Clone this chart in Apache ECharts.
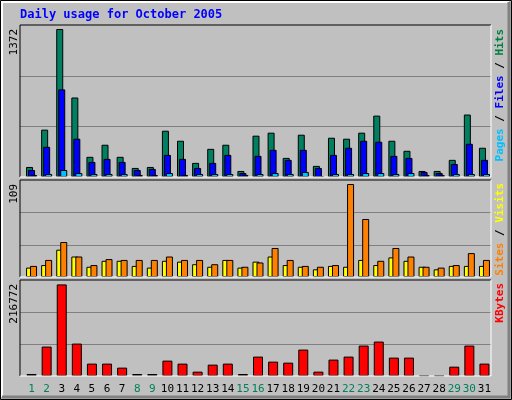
<!DOCTYPE html>
<html><head><meta charset="utf-8">
<script src="https://cdn.jsdelivr.net/npm/echarts@6/dist/echarts.min.js"></script>
<style>html,body{margin:0;padding:0;background:#fff}#c{width:512px;height:400px}</style>
</head><body><div id="c"></div>
<script>
const days = ['1','2','3','4','5','6','7','8','9','10','11','12','13','14','15','16','17','18','19','20','21','22','23','24','25','26','27','28','29','30','31'];
const weekend = ['1','2','8','9','15','16','22','23','29','30'];
const hits = [93,439,1372,737,187,299,187,84,93,429,336,131,261,299,56,383,411,177,392,103,364,355,411,569,336,243,56,56,159,579,271];
const files = [65,280,812,355,140,168,140,65,75,205,168,84,131,205,37,196,252,159,252,84,205,271,336,327,196,177,47,37,121,308,159];
const pages = [19,28,65,37,28,28,28,19,19,37,19,28,28,28,19,28,37,28,47,9,28,28,37,37,28,37,19,19,28,28,28];
const sites = [11,14,32,24,12,19,19,13,11,19,18,15,12,20,11,18,24,14,12,9,13,12,20,14,23,19,12,9,13,13,13];
const visits = [13,20,41,24,14,21,20,20,20,24,20,20,15,20,12,17,34,20,13,12,14,109,68,19,34,24,12,11,14,28,20];
const kbytes = [4746,69600,216772,76700,29300,29300,19800,4700,4700,36400,29300,10300,26900,29300,4700,45900,34000,31600,62500,10300,38800,45900,72000,81500,43500,43500,1500,1500,22100,72000,29300];
const maxLabels = ['1372','109','216772'];

const mono = '"DejaVu Sans Mono", "Liberation Mono", monospace';
const chart = echarts.init(document.getElementById('c'));
const FL = 20, FR = 491;
const GL = 24, GR = 20;
const panels = [{top:25,h:152,max:1409},{top:180,h:97,max:113.7},{top:280,h:96,max:227200}];
const bs = {borderColor:'#000',borderWidth:1};
const xAxes = panels.map((p,i)=>({type:'category',gridIndex:i,data:days.map(d=>({value:d,textStyle:{color:weekend.includes(d)?'#00805c':'#000'}})),
  axisLine:{show:false},axisTick:{show:false},axisLabel:{show:i===2,fontFamily:mono,fontSize:11,margin:8,interval:0}}));
const yAxes = panels.map((p,i)=>({type:'value',gridIndex:i,min:0,max:p.max,interval:p.max/3,axisLine:{show:false},axisTick:{show:false},axisLabel:{show:false},
  splitLine:{show:false}}));
const frame = [];
panels.forEach(p=>{
  [1,2].forEach(k=>{
    const y = Math.round(p.top + p.h - p.h*k/3) + 0.5;
    frame.push({type:'line',shape:{x1:FL,y1:y,x2:FR,y2:y},style:{stroke:'#808080',lineWidth:1},z:1});
  });
  frame.push({type:'polyline',shape:{points:[[FL,p.top+p.h],[FL,p.top],[FR,p.top]]},style:{stroke:'#000',lineWidth:1,fill:null},z:10});
  frame.push({type:'polyline',shape:{points:[[FR,p.top],[FR,p.top+p.h],[FL,p.top+p.h]]},style:{stroke:'#fff',lineWidth:1,fill:null},z:10});
});
const ylab = (t,y)=>({type:'text',x:14,y:y,rotation:Math.PI/2,style:{text:t,font:'11px '+mono,fill:'#000',align:'right',verticalAlign:'middle'},z:11});
const rlab = (y,rich,txt)=>({type:'text',x:500,y:y,rotation:Math.PI/2,style:{text:txt,rich:rich,font:'bold 11px '+mono,align:'right',verticalAlign:'middle'},z:11});
chart.setOption({
  animation:false,
  backgroundColor:'#c0c0c0',
  textStyle:{fontFamily:mono},
  grid:panels.map(p=>({left:GL,right:GR,top:p.top,height:p.h})),
  xAxis:xAxes, yAxis:yAxes,
  graphic:[
    {type:'rect',shape:{x:0.5,y:0.5,width:511,height:399},style:{fill:null,stroke:'#000',lineWidth:1},z:9},
    {type:'polyline',shape:{points:[[2,397],[2,2],[509,2]]},style:{stroke:'#fff',fill:null,lineWidth:2},z:9},
    {type:'polyline',shape:{points:[[509,2],[509,397],[2,397]]},style:{stroke:'#808080',fill:null,lineWidth:3},z:9},
    {type:'text',x:20,y:9,style:{text:'Daily usage for October 2005',font:'bold 12px '+mono,fill:'#0000ff'},z:11},
    ylab(maxLabels[0],29), ylab(maxLabels[1],184), ylab(maxLabels[2],284),
    rlab(29,{p:{fill:'#00c0ff'},f:{fill:'#0000ff'},h:{fill:'#008040'},s:{fill:'#000'}},'{p|Pages}{s| / }{f|Files}{s| / }{h|Hits}'),
    rlab(183,{s:{fill:'#ff8000'},v:{fill:'#ffff00'},k:{fill:'#000'}},'{s|Sites}{k| / }{v|Visits}'),
    rlab(283,{k:{fill:'#ff0000'}},'{k|KBytes}')
  ].concat(frame),
  series:[
    {type:'bar',xAxisIndex:0,yAxisIndex:0,data:hits,barWidth:7,barGap:'-71.4%',itemStyle:Object.assign({color:'#008060'},bs)},
    {type:'bar',xAxisIndex:0,yAxisIndex:0,data:files,barWidth:7,barGap:'-71.4%',itemStyle:Object.assign({color:'#0000ff'},bs)},
    {type:'bar',xAxisIndex:0,yAxisIndex:0,data:pages,barWidth:7,barGap:'-71.4%',itemStyle:Object.assign({color:'#00c0ff'},bs)},
    {type:'bar',xAxisIndex:1,yAxisIndex:1,data:sites,barWidth:7,barGap:'-43%',itemStyle:Object.assign({color:'#ffff00'},bs)},
    {type:'bar',xAxisIndex:1,yAxisIndex:1,data:visits,barWidth:7,barGap:'-43%',itemStyle:Object.assign({color:'#ff8000'},bs)},
    {type:'bar',xAxisIndex:2,yAxisIndex:2,data:kbytes,barWidth:10,itemStyle:Object.assign({color:'#ff0000'},bs)}
  ]
});
</script></body></html>
